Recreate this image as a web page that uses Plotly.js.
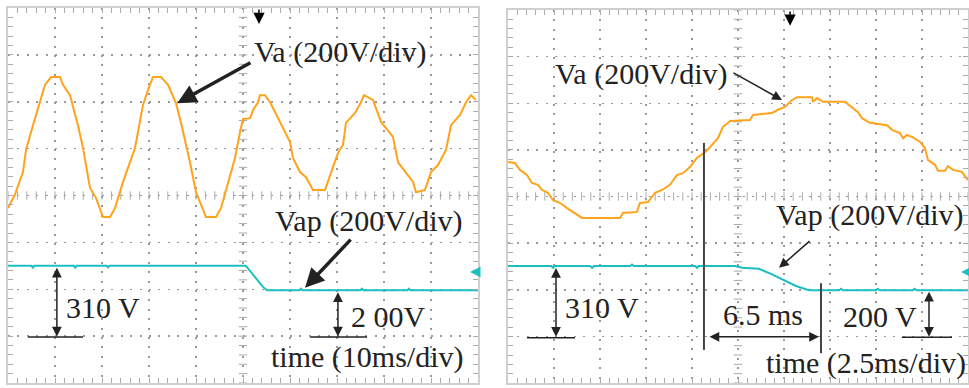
<!DOCTYPE html>
<html>
<head>
<meta charset="utf-8">
<script src="https://cdn.plot.ly/plotly-3.0.1.min.js"></script>
<style>html,body{margin:0;padding:0;background:#fff;}#chart{width:969px;height:388px;}</style>
</head>
<body>
<div id="chart"></div>
<script>
// ---- Left panel (10 ms/div), vertical in divisions ----
const leftVaT = [0,1.43,3.19,3.83,5.32,6.81,7.87,9.15,11.06,11.70,13.19,14.89,15.96,17.45,18.72,20.21,21.70,22.77,24.47,27.02,28.72,29.79,30.85,32.55,34.04,35.74,36.81,38.72,40.00,42.13,44.26,45.32,46.81,48.30,49.36,50.0,51.49,52.13,53.19,53.62,54.68,55.74,56.81,58.51,60.00,60.64,62.13,63.40,64.89,67.45,68.51,70.21,71.28,71.91,73.83,75.11,75.74,77.66,79.36,81.91,82.98,84.68,86.17,86.81,88.72,90.00,91.49,93.19,94.26,96.17,97.45,98.51,99.57];
const leftVaY = [3.73,4.01,4.50,4.97,5.50,5.99,6.36,6.53,6.53,6.36,6.14,5.50,5.01,4.16,3.95,3.54,3.54,3.73,4.29,5.01,5.93,6.25,6.53,6.53,6.36,5.97,5.55,4.71,4.07,3.54,3.54,3.73,4.29,4.80,5.35,5.63,5.65,5.82,5.99,6.14,6.14,5.99,5.78,5.44,5.14,4.80,4.50,4.39,4.12,4.12,4.44,4.91,5.08,5.55,5.76,5.99,6.14,6.04,5.57,5.25,4.71,4.48,4.29,4.07,4.12,4.50,4.65,4.97,5.50,5.72,5.99,6.14,6.04];
const leftVapT = [0,5,5.3,5.6,14,14.3,14.6,21,21.3,21.6,35,48,50.5,50.85,52.55,54.26,55.1,62,62.3,62.6,75,75.3,75.6,85,85.3,85.6,100];
const leftVapY = [2.50,2.50,2.46,2.50,2.50,2.46,2.50,2.50,2.47,2.50,2.50,2.50,2.50,2.47,2.26,2.05,1.98,1.98,2.01,1.98,1.98,2.01,1.98,1.98,2.01,1.98,1.98];

// ---- Right panel (2.5 ms/div) ----
const rightVaT = [0,0.38,0.65,1.03,1.30,1.63,1.85,2.17,2.45,2.83,3.21,3.53,4.02,6.09,6.25,6.47,7.01,7.17,7.61,7.99,8.37,8.80,9.18,9.51,9.89,10.27,10.71,10.98,11.41,11.68,12.07,13.15,13.32,13.80,14.35,14.67,15.05,15.43,15.71,16.52,16.58,16.79,17.12,18.32,18.70,19.02,19.24,19.67,20.60,20.87,21.30,21.47,21.68,21.96,22.39,22.66,22.83,23.21,23.37,23.75,23.91,24.18,24.67,25.0];
const rightVaY = [4.74,4.72,4.57,4.46,4.29,4.25,4.14,4.08,3.92,3.86,3.75,3.67,3.54,3.54,3.65,3.65,3.67,3.86,3.88,4.08,4.14,4.25,4.46,4.50,4.63,4.83,4.95,5.06,5.25,5.49,5.62,5.64,5.75,5.77,5.79,5.86,5.92,6.07,6.13,6.13,6.03,6.11,6.03,6.03,5.92,5.81,5.68,5.58,5.53,5.43,5.36,5.25,5.32,5.28,5.17,5.04,4.78,4.68,4.55,4.55,4.65,4.57,4.53,4.35];
const rightVapT = [0,2.35,2.45,2.55,4.47,4.57,4.67,6.64,6.74,6.84,10.17,10.27,10.37,12.34,12.72,13.64,14.18,14.89,15.65,16.36,18,18.1,18.2,20,20.1,20.2,22,22.1,22.2,25];
const rightVapY = [2.51,2.51,2.47,2.51,2.51,2.47,2.51,2.51,2.54,2.51,2.51,2.47,2.51,2.51,2.47,2.45,2.36,2.23,2.08,1.99,1.99,2.02,1.99,1.99,2.02,1.99,1.99,2.02,1.99,1.99];

const ORANGE = '#ffa31a', CYAN = '#1bbfc2', INK = '#222', GRIDC = '#999999';
const FONT = 'Liberation Serif, Times New Roman, serif';

function crossMarks(xa, ya, xc, yc, xmax, xstep){
  const vy = [], vx = [], hx = [], hy = [];
  for (let i = 0; i <= 40; i++){ vy.push(i*0.2); vx.push(xc); }
  for (let i = 0; i <= 50; i++){ hx.push(i*xstep); hy.push(yc); }
  const mk = (sym) => ({symbol: sym, size: 6, color: '#aaa', line: {color: '#aaa', width: 1}});
  return [
    {x: vx, y: vy, xaxis: xa, yaxis: ya, mode: 'markers', marker: mk('line-ew'), hoverinfo: 'skip', showlegend: false, cliponaxis: false},
    {x: hx, y: hy, xaxis: xa, yaxis: ya, mode: 'markers', marker: mk('line-ns'), hoverinfo: 'skip', showlegend: false, cliponaxis: false}
  ];
}

const traces = [
  ...crossMarks('x','y',50,4,100,2),
  ...crossMarks('x2','y2',12.5,4,25,0.5),
  {x: leftVaT, y: leftVaY, xaxis:'x', yaxis:'y', mode:'lines', line:{color:ORANGE, width:2}, showlegend:false},
  {x: leftVapT, y: leftVapY, xaxis:'x', yaxis:'y', mode:'lines', line:{color:CYAN, width:2}, showlegend:false},
  {x: rightVaT, y: rightVaY, xaxis:'x2', yaxis:'y2', mode:'lines', line:{color:ORANGE, width:2}, showlegend:false},
  {x: rightVapT, y: rightVapY, xaxis:'x2', yaxis:'y2', mode:'lines', line:{color:CYAN, width:2}, showlegend:false}
];

function xax(domain, maxv, dt){
  return {domain: domain, range:[0,maxv], dtick: dt, tick0: 0, showgrid: true, gridcolor: GRIDC, gridwidth: 1.5,
    griddash: '2px,7.4px', zeroline: false, showticklabels: false, ticks: 'inside', ticklen: 5, tickcolor: '#aaa',
    showline: true, linecolor: '#cfcfcf', linewidth: 2, mirror: 'ticks',
    minor: {dtick: dt/5, tick0: 0, ticks: 'inside', ticklen: 5, tickcolor: '#aaa', showgrid: false}, fixedrange: true};
}
function yax(domain, anchor){
  return {domain: domain, anchor: anchor, range:[0,8], dtick: 1, tick0: 0, showgrid: true, gridcolor: GRIDC, gridwidth: 1.5,
    griddash: '2px,7.4px', zeroline: false, showticklabels: false, ticks: 'inside', ticklen: 5, tickcolor: '#aaa',
    showline: true, linecolor: '#cfcfcf', linewidth: 2, mirror: 'ticks',
    minor: {dtick: 0.2, tick0: 0, ticks: 'inside', ticklen: 5, tickcolor: '#aaa', showgrid: false}, fixedrange: true};
}

function label(xr, yr, x, y, text){
  return {xref: xr, yref: yr, x: x, y: y, text: text, showarrow: false,
    font: {family: FONT, size: 30, color: INK}, xanchor: 'center', yanchor: 'middle'};
}
function arrow(xr, yr, x, y, ax, ay, w, size, both, color){
  return {xref: xr, yref: yr, axref: xr, ayref: yr, x: x, y: y, ax: ax, ay: ay, text: '', showarrow: true,
    arrowhead: 2, startarrowhead: 2, arrowside: both ? 'end+start' : 'end', arrowwidth: w, arrowsize: size,
    startarrowsize: size, arrowcolor: color || INK, standoff: 0, startstandoff: 0};
}

const annotations = [
  // left panel
  label('x','y',70.6,7.06,'Va (200V/div)'),
  arrow('x','y',36.0,5.97,51.9,6.85,3.5,1.1,false),
  label('x','y',76.6,3.46,'Vap (200V/div)'),
  arrow('x','y',63.2,2.03,73.2,3.09,3.5,1.1,false),
  arrow('x','y',10.4,0.99,10.4,2.49,1.5,1.3,true),
  label('x','y',20.2,1.62,'310 V'),
  arrow('x','y',70.2,0.99,70.2,1.97,1.5,1.3,true),
  label('x','y',80.9,1.41,'2 00V'),
  label('x','y',76.4,0.55,'time (10ms/div)'),
  arrow('x','y',53.4,7.66,53.4,8.0,1.5,1.5,false,'#000'),
  arrow('x','y',98.3,2.37,99.9,2.37,1.5,1.4,false,CYAN),
  // right panel
  label('x2','y2',7.23,6.63,'Va (200V/div)'),
  arrow('x2','y2',14.89,6.07,12.17,6.67,1.5,1.3,false),
  label('x2','y2',19.67,3.60,'Vap (200V/div)'),
  arrow('x2','y2',14.73,2.47,16.47,3.07,1.5,1.3,false),
  arrow('x2','y2',2.61,0.99,2.61,2.50,1.5,1.3,true),
  label('x2','y2',5.11,1.63,'310 V'),
  arrow('x2','y2',22.88,0.99,22.88,1.99,1.5,1.3,true),
  label('x2','y2',20.22,1.42,'200 V'),
  arrow('x2','y2',16.90,0.99,10.87,0.99,1.5,1.3,true),
  label('x2','y2',13.86,1.46,'6.5 ms'),
  label('x2','y2',19.46,0.43,'time (2.5ms/div)'),
  arrow('x2','y2',15.33,7.66,15.33,8.0,1.5,1.5,false,'#000'),
  arrow('x2','y2',24.62,2.38,25.0,2.38,1.5,1.4,false,CYAN)
];

const ln = (xr, yr, x0, y0, x1, y1, w, c) => ({type:'line', xref:xr, yref:yr, x0:x0, y0:y0, x1:x1, y1:y1, line:{color:c||INK, width:w}});
const shapes = [
  ln('x','y',4.26,0.98,15.96,0.98,1.5),
  ln('x','y',64.3,0.98,76.4,0.98,1.5),
  ln('x2','y2',1.03,0.97,3.64,0.97,1.5),
  ln('x2','y2',21.41,0.98,24.13,0.98,1.5),
  ln('x2','y2',10.65,5.15,10.65,0.71,2,'#444'),
  ln('x2','y2',17.01,2.14,17.01,0.64,2,'#444')
];

const layout = {
  width: 969, height: 388, margin: {l:0, r:0, t:0, b:0}, paper_bgcolor: '#fff', plot_bgcolor: '#fff',
  showlegend: false,
  xaxis: xax([8/969, 478/969], 100, 10),
  yaxis: yax([5/388, 380/388], 'x'),
  xaxis2: Object.assign(xax([508/969, 968/969], 25, 2.5), {anchor: 'y2'}),
  yaxis2: yax([5/388, 378/388], 'x2'),
  annotations: annotations, shapes: shapes
};
layout.xaxis.anchor = 'y';

Plotly.newPlot('chart', traces, layout, {staticPlot: true});
</script>
</body>
</html>
